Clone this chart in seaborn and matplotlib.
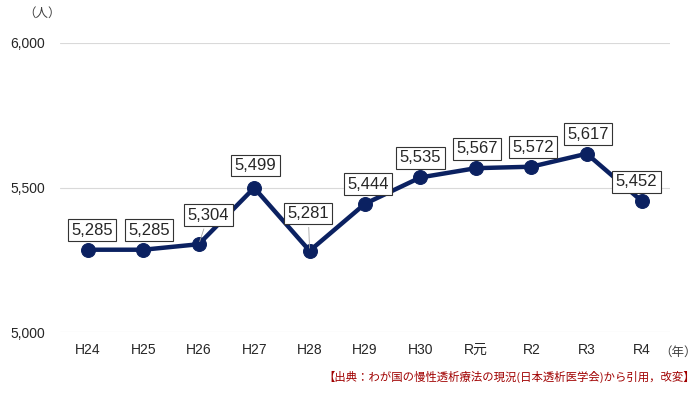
import seaborn as sns
import matplotlib.pyplot as plt
import pandas as pd

years = ['H24', 'H25', 'H26', 'H27', 'H28', 'H29', 'H30', 'R元', 'R2', 'R3', 'R4']
patients = [5285, 5285, 5304, 5499, 5281, 5444, 5535, 5567, 5572, 5617, 5452]
yticks = [5000, 5500, 6000]
# label offsets (points) from each marker
label_dx = [3, 4, 7, 1, -1, 2, 0, 1, 1, 1, -4]
label_dy = [14, 14, 21, 16, 27, 14, 14, 14, 14, 14, 14]
leader = [False, False, True, False, True, False, False, False, False, False, False]

sns.set_style('white')
plt.rcParams['font.family'] = ['Liberation Sans', 'Noto Sans CJK JP', 'DejaVu Sans']

df = pd.DataFrame({'year': years, 'n': patients})

fig = plt.figure(figsize=(7, 3.94), dpi=100)
ax = fig.add_axes([0.086, 0.157, 0.871, 0.734])
navy = '#0b2161'
sns.lineplot(data=df, x='year', y='n', ax=ax, color=navy, linewidth=3.2,
             marker='o', markersize=10, markeredgecolor=navy, sort=False)

ax.set_ylim(5000, 6000)
ax.set_xlim(-0.5, len(years) - 0.5)
ax.set_yticks(yticks)
ax.set_yticklabels([f'{v:,}' for v in yticks], fontsize=10)
ax.tick_params(axis='x', labelsize=10, length=0, pad=8)
ax.tick_params(axis='y', length=0, pad=11)
ax.grid(axis='y', color='#d9d9d9', linewidth=0.8)
ax.set_axisbelow(True)
for s in ax.spines.values():
    s.set_visible(False)
ax.set_xlabel('')
ax.set_ylabel('')

for i, v in enumerate(patients):
    ap = dict(arrowstyle='-', color='#a6a6a6', lw=0.6) if leader[i] else None
    ax.annotate(f'{v:,}', xy=(i, v), xytext=(label_dx[i], label_dy[i]),
                textcoords='offset points', ha='center', va='center', fontsize=12,
                bbox=dict(boxstyle='square,pad=0.2', fc='white', ec='#333333', lw=0.8),
                arrowprops=ap, zorder=5)

fig.text(0.06, 0.965, '（人）', fontsize=9, ha='center', va='center', color='#404040',
         family=['Noto Sans CJK JP', 'DejaVu Sans'])
fig.text(0.968, 0.107, '（年）', fontsize=9, ha='center', va='center', color='#404040',
         family=['Noto Sans CJK JP', 'DejaVu Sans'])
fig.text(0.993, 0.043, '【出典：わが国の慢性透析療法の現況(日本透析医学会)から引用，改変】',
         fontsize=8.2, ha='right', va='center', color='#a00000',
         family=['Noto Sans CJK JP', 'DejaVu Sans'])

fig.savefig('out.png', dpi=100, facecolor='white')
